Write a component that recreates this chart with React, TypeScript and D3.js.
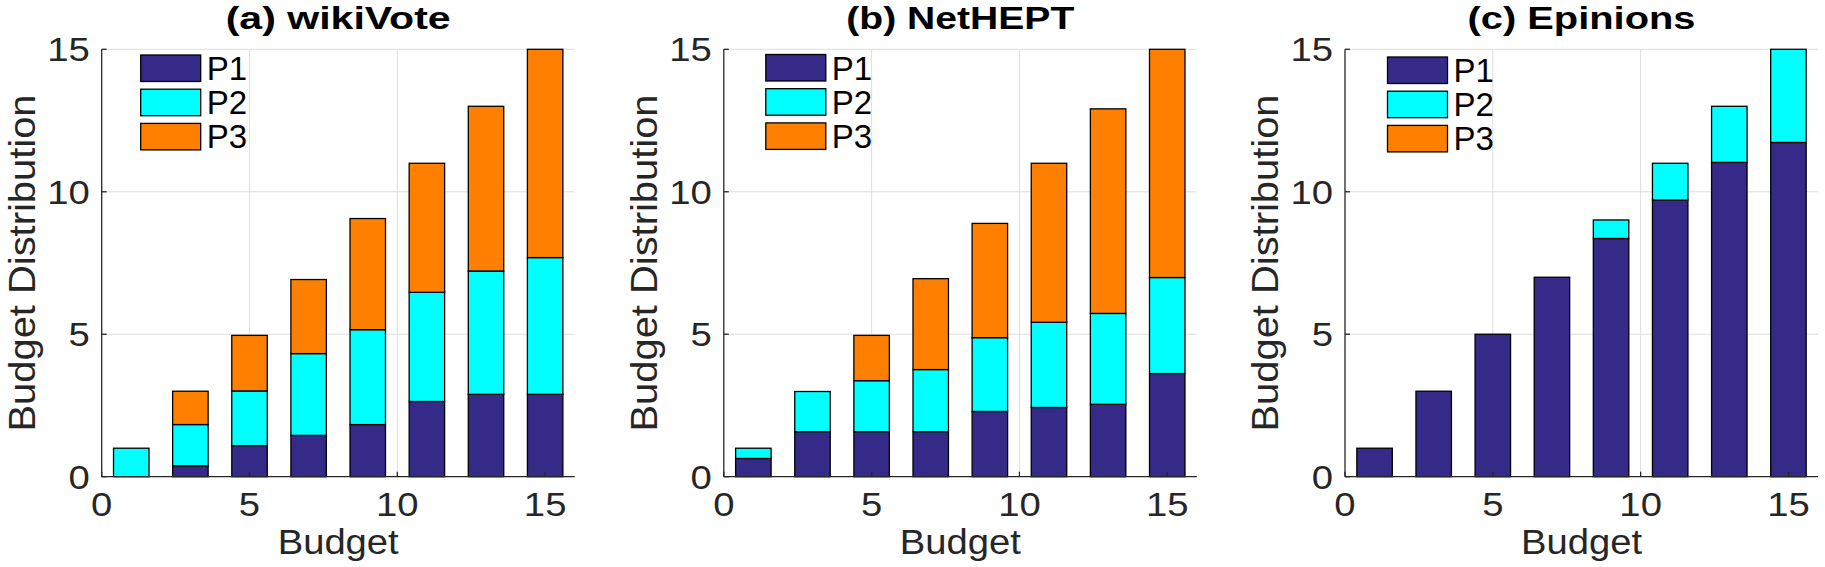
import React from 'react'
import * as d3 from 'd3'

// budgets on the x axis (one stacked bar each)
const budgets = [1, 3, 5, 7, 9, 11, 13, 15]
const seriesNames = ['P1', 'P2', 'P3']
const seriesColors = ['#352a87', '#00ffff', '#ff8000']
const xTicks = [0, 5, 10, 15]
const yTicks = [0, 5, 10, 15]

// (a) wikiVote
const wikiP1 = [0, 0.38, 1.09, 1.45, 1.83, 2.64, 2.89, 2.89]
const wikiP2 = [1.0, 1.45, 1.92, 2.87, 3.33, 3.83, 4.33, 4.8]
const wikiP3 = [0, 1.17, 1.95, 2.6, 3.9, 4.53, 5.78, 7.31]

// (b) NetHEPT
const hepP1 = [0.64, 1.58, 1.58, 1.58, 2.29, 2.43, 2.54, 3.62]
const hepP2 = [0.36, 1.41, 1.79, 2.18, 2.59, 2.99, 3.19, 3.37]
const hepP3 = [0, 0, 1.59, 3.19, 4.01, 5.58, 7.18, 8.01]

// (c) Epinions
const epiP1 = [1, 3, 5, 7, 8.36, 9.71, 11.03, 11.73]
const epiP2 = [0, 0, 0, 0, 0.65, 1.29, 1.97, 3.27]
const epiP3 = [0, 0, 0, 0, 0, 0, 0, 0]

const panels = [
  { title: '(a) wikiVote', titleLen: 225, series: [wikiP1, wikiP2, wikiP3], left: 101.7, legendDx: 39, legendTop: 55 },
  { title: '(b) NetHEPT', titleLen: 228, series: [hepP1, hepP2, hepP3], left: 723.8, legendDx: 42, legendTop: 54.5 },
  { title: '(c) Epinions', titleLen: 228, series: [epiP1, epiP2, epiP3], left: 1345, legendDx: 42.5, legendTop: 57 },
]

const FONT = '"Liberation Sans", Arial, Helvetica, sans-serif'
const plotW = 473
const top = 49.3
const bottom = 476.7
const axisColor = '#262626'
const tickSize = 33

const Panel: React.FC<{ p: typeof panels[number] }> = ({ p }) => {
  const x = d3.scaleLinear().domain([0, 16]).range([p.left, p.left + plotW])
  const y = d3.scaleLinear().domain([0, 15]).range([bottom, top])
  const barW = x(1.2) - x(0)

  const rows = budgets.map((b, i) => {
    const r: any = { budget: b }
    seriesNames.forEach((k, j) => { r[k] = p.series[j][i] })
    return r
  })
  const stacked = d3.stack<any>().keys(seriesNames)(rows)
  const cx = (p.left + p.left + plotW) / 2

  return (
    <g>
      {/* grid */}
      {xTicks.filter(t => t > 0).map(t => (
        <line key={'gx' + t} x1={x(t)} x2={x(t)} y1={top} y2={bottom} stroke="#dedede" strokeWidth={1} />
      ))}
      {yTicks.filter(t => t > 0).map(t => (
        <line key={'gy' + t} x1={x(0)} x2={x(16)} y1={y(t)} y2={y(t)} stroke="#dedede" strokeWidth={1} />
      ))}

      {/* bars */}
      {stacked.map((layer, j) => (
        <g key={layer.key}>
          {layer.map((d, i) => d[1] - d[0] > 0 ? (
            <rect
              key={i}
              x={x(budgets[i]) - barW / 2}
              y={y(d[1])}
              width={barW}
              height={y(d[0]) - y(d[1])}
              fill={seriesColors[j]}
              stroke="#000"
              strokeWidth={1.3}
            />
          ) : null)}
        </g>
      ))}

      {/* axes */}
      <line x1={x(0)} x2={x(16)} y1={bottom} y2={bottom} stroke={axisColor} strokeWidth={1.3} />
      <line x1={x(0)} x2={x(0)} y1={top} y2={bottom} stroke={axisColor} strokeWidth={1.3} />
      {xTicks.map(t => (
        <g key={'xt' + t}>
          <line x1={x(t)} x2={x(t)} y1={bottom} y2={bottom - 5} stroke={axisColor} strokeWidth={1.3} />
          <text
            transform={`translate(${x(t)},${bottom + 39}) scale(1.16,1)`}
            textAnchor="middle"
            fontFamily={FONT}
            fontSize={tickSize}
            fill={axisColor}
          >{t}</text>
        </g>
      ))}
      {yTicks.map(t => (
        <g key={'yt' + t}>
          <line x1={x(0)} x2={x(0) + 5} y1={y(t)} y2={y(t)} stroke={axisColor} strokeWidth={1.3} />
          <text
            transform={`translate(${x(0) - 12},${y(t) + 11.8}) scale(1.16,1)`}
            textAnchor="end"
            fontFamily={FONT}
            fontSize={tickSize}
            fill={axisColor}
          >{t}</text>
        </g>
      ))}

      {/* labels */}
      <text x={cx} y={554} textAnchor="middle" fontFamily={FONT} fontSize={35} fill={axisColor}
        textLength={121} lengthAdjust="spacingAndGlyphs">Budget</text>
      <text
        transform={`translate(${p.left - 66.7},${(top + bottom) / 2}) rotate(-90)`}
        textAnchor="middle"
        fontFamily={FONT}
        fontSize={36}
        fill={axisColor}
        textLength={337}
        lengthAdjust="spacingAndGlyphs"
      >Budget Distribution</text>
      <text x={cx} y={29.3} textAnchor="middle" fontFamily={FONT} fontSize={31} fontWeight="bold" fill="#000"
        textLength={p.titleLen} lengthAdjust="spacingAndGlyphs">{p.title}</text>

      {/* legend */}
      {seriesNames.map((name, j) => {
        const ly = p.legendTop + j * 34.2
        const lx = p.left + p.legendDx
        return (
          <g key={name}>
            <rect x={lx} y={ly} width={60} height={26.5} fill={seriesColors[j]} stroke="#000" strokeWidth={1.3} />
            <text x={lx + 66} y={ly + 13.25 + 11.8} fontFamily={FONT} fontSize={33} fill="#000">{name}</text>
          </g>
        )
      })}
    </g>
  )
}

export default function App() {
  return (
    <svg
      width={1825}
      height={567}
      style={{ position: 'absolute', left: 0, top: 0, background: '#fff' }}
    >
      <rect x={0} y={0} width={1825} height={567} fill="#fff" />
      {panels.map(p => <Panel key={p.title} p={p} />)}
    </svg>
  )
}
